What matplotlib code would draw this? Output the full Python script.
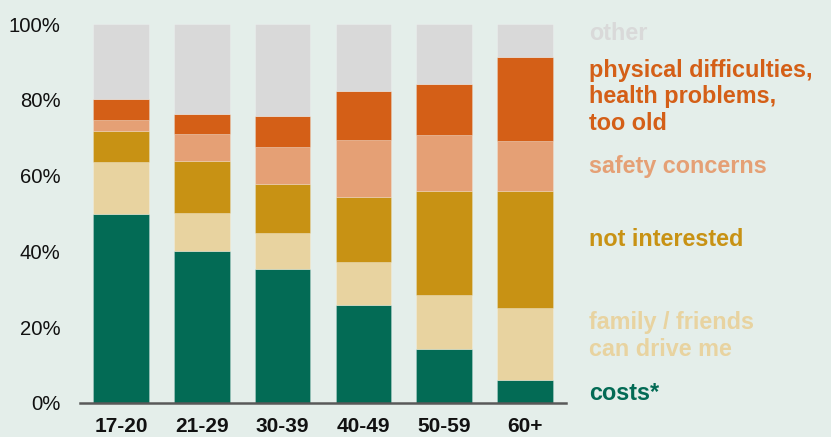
import matplotlib
matplotlib.use("Agg")
import matplotlib.pyplot as plt
import numpy as np

plt.rcParams['font.family'] = ['Liberation Sans', 'DejaVu Sans']

categories = ["17-20", "21-29", "30-39", "40-49", "50-59", "60+"]
series_names = ["costs*", "family / friends\ncan drive me", "not interested",
                "safety concerns", "physical difficulties,\nhealth problems,\ntoo old", "other"]
costs = [50.0, 40.1, 35.3, 25.8, 14.3, 6.0]
family = [13.5, 10.0, 9.6, 11.5, 14.3, 19.0]
not_interested = [8.3, 13.8, 13.0, 17.0, 27.3, 30.9]
safety = [2.9, 7.1, 9.7, 15.1, 14.8, 13.2]
physical = [5.4, 5.2, 8.2, 12.8, 13.4, 22.1]
other = [19.9, 23.8, 24.2, 17.8, 15.9, 8.8]
yticks = [0, 20, 40, 60, 80, 100]
ytick_labels = ["0%", "20%", "40%", "60%", "80%", "100%"]

series = [costs, family, not_interested, safety, physical, other]
colors = ["#036B55", "#E8D3A0", "#C89214", "#E5A075", "#D45F17", "#D9D9D9"]
bg = "#E4EEEA"

fig = plt.figure(figsize=(8.31, 4.37), dpi=100, facecolor=bg)
ax = fig.add_axes([80/831, 34/437, 486/831, 379/437], facecolor=bg)

x = np.arange(len(categories))
bottom = np.zeros(len(categories))
for vals, col in zip(series, colors):
    ax.bar(x, vals, bottom=bottom, width=0.69, color=col,
           edgecolor=(1, 1, 1, 0.25), linewidth=0.6)
    bottom += np.array(vals)

ax.set_xlim(-0.507, 5.507)
ax.set_ylim(0, 100)
ax.set_yticks(yticks)
ax.set_yticklabels(ytick_labels)
ax.set_xticks(x)
ax.set_xticklabels(categories, fontweight='bold')
ax.tick_params(axis='y', length=0, pad=14, labelsize=14.6, labelcolor='#111111')
ax.tick_params(axis='x', length=0, pad=10, labelsize=15, labelcolor='#111111')
for s in ['top', 'right', 'left']:
    ax.spines[s].set_visible(False)
ax.spines['bottom'].set_color('#595959')
ax.spines['bottom'].set_linewidth(1.8)

# legend labels on the right
label_pos = [394, 336, 240, 167, 97, 33]
for name, col, ypix in zip(series_names, colors, label_pos):
    fig.text(589/831, 1 - ypix/437, name, color=col, fontsize=16.8, fontweight='bold',
             ha='left', va='center', linespacing=1.2)

fig.savefig("out.png", dpi=100, facecolor=bg)
